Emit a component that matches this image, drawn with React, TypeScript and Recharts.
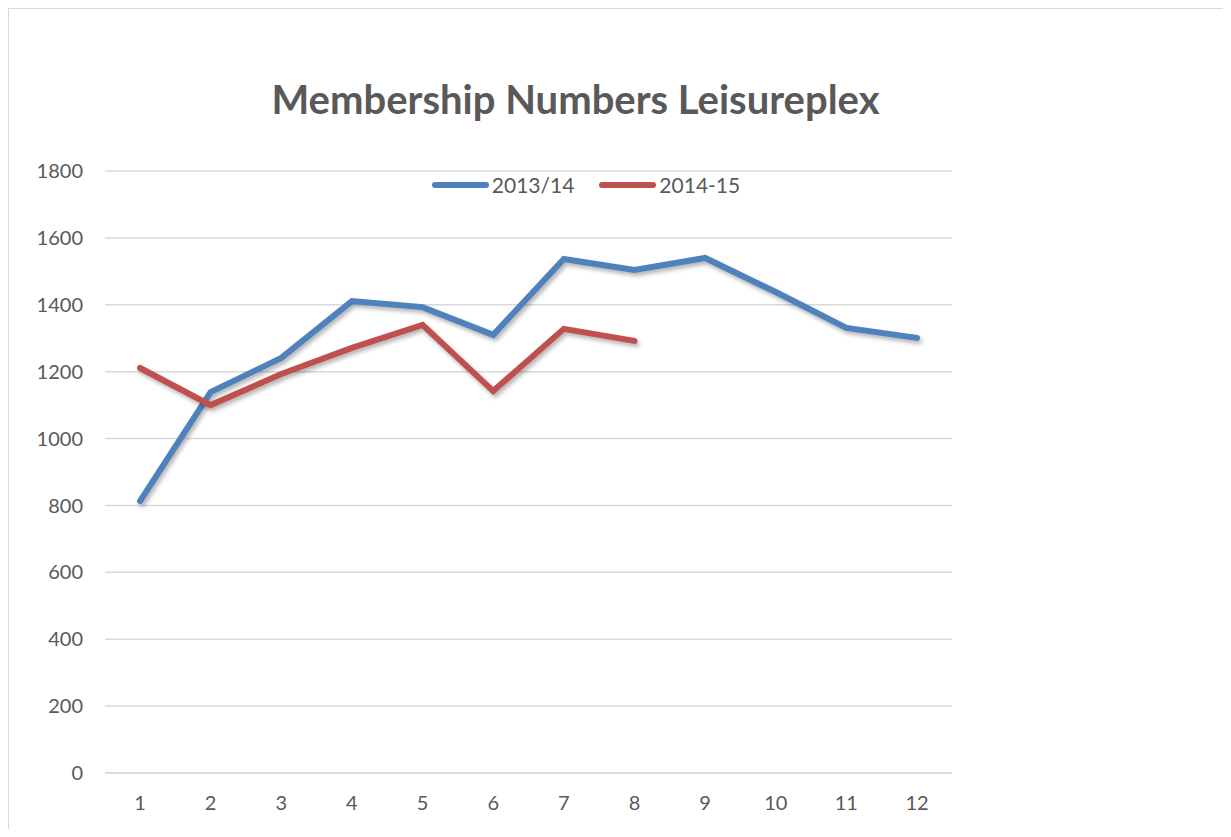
import React from 'react';
import { LineChart, Line, XAxis, YAxis, CartesianGrid } from 'recharts';

const months = ['1', '2', '3', '4', '5', '6', '7', '8', '9', '10', '11', '12'];
const season1314 = [813, 1139, 1241, 1411, 1393, 1310, 1537, 1504, 1540, 1438, 1331, 1301];
const season1415 = [1211, 1100, 1193, 1271, 1340, 1142, 1328, 1292];
const yTicks = [0, 200, 400, 600, 800, 1000, 1200, 1400, 1600, 1800];

const series = [
  { key: 's1', name: '2013/14', color: '#4f81bd' },
  { key: 's2', name: '2014-15', color: '#c0504d' },
];

const data = months.map((m, i) => ({
  month: m,
  s1: season1314[i],
  s2: i < season1415.length ? season1415[i] : null,
}));

const font = 'Lato, "Open Sans", sans-serif';

const App: React.FC = () => {
  return (
    <div
      style={{
        position: 'relative',
        width: 1214,
        height: 820,
        borderTop: '1px solid #d9d9d9',
        borderLeft: '1px solid #d9d9d9',
        background: '#fff',
      }}
    >
      <style>{`.recharts-line-curve { filter: drop-shadow(2px 3px 2px rgba(0,0,0,0.3)); }`}</style>
      <div
        style={{
          position: 'absolute',
          top: 66,
          left: 0,
          width: 1133,
          textAlign: 'center',
          fontFamily: font,
          fontWeight: 'bold',
          fontSize: 40,
          color: '#595959',
        }}
      >
        Membership Numbers Leisureplex
      </div>
      <div
        style={{
          position: 'absolute',
          top: 163,
          left: 277,
          width: 600,
          display: 'flex',
          justifyContent: 'center',
          gap: 25,
          fontFamily: font,
          fontSize: 21,
          color: '#595959',
          zIndex: 1,
        }}
      >
        {series.map((s) => (
          <div key={s.key} style={{ display: 'flex', alignItems: 'center', gap: 3 }}>
            <span style={{ display: 'inline-block', width: 57, height: 6, borderRadius: 3, background: s.color }} />
            <span>{s.name}</span>
          </div>
        ))}
      </div>
      <LineChart width={1214} height={820} data={data} margin={{ top: 162, right: 271, left: 0, bottom: 0 }}>
        <CartesianGrid vertical={false} stroke="#d9d9d9" strokeWidth={1.5} />
        <XAxis
          dataKey="month"
          height={56}
          padding={{ left: 35, right: 35 }}
          tickLine={false}
          tickSize={0}
          tickMargin={23}
          axisLine={{ stroke: '#d9d9d9', strokeWidth: 1.5 }}
          tick={{ fill: '#595959', fontSize: 20, fontFamily: font }}
        />
        <YAxis
          width={96}
          domain={[0, 1800]}
          ticks={yTicks}
          axisLine={false}
          tickLine={false}
          tickSize={0}
          tickMargin={22}
          tick={{ fill: '#595959', fontSize: 20, fontFamily: font }}
        />
        {series.map((s) => (
          <Line
            key={s.key}
            type="linear"
            dataKey={s.key}
            name={s.name}
            stroke={s.color}
            strokeWidth={6}
            strokeLinecap="round"
            dot={false}
            activeDot={false}
            isAnimationActive={false}
          />
        ))}
      </LineChart>
    </div>
  );
};

export default App;
